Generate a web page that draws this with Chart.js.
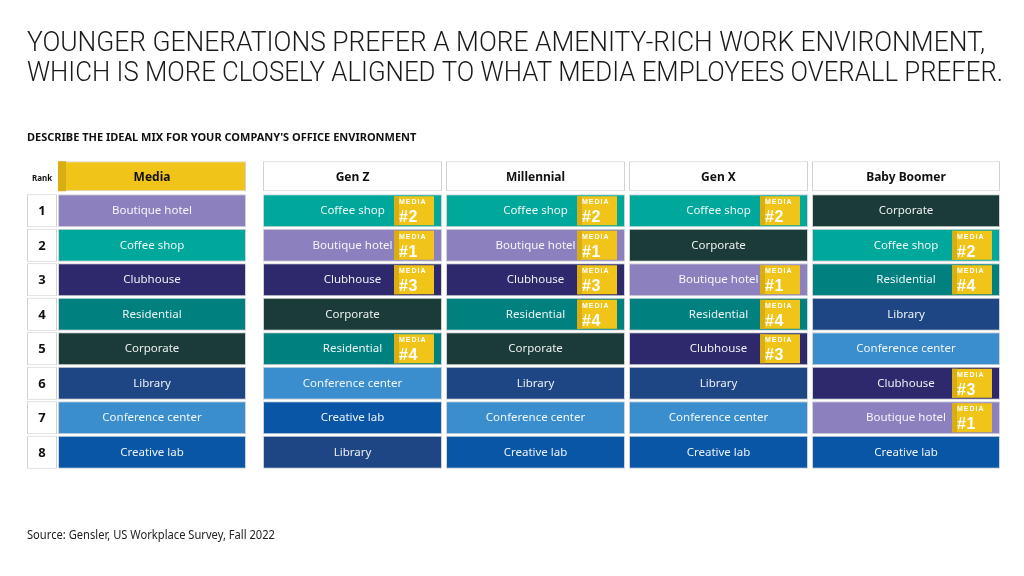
<!DOCTYPE html>
<html>
<head>
    <title>Ideal office mix by generation</title>
    <script src="https://cdn.jsdelivr.net/npm/chart.js"></script>
    <style>
        body { margin: 0; background: #fff; }
        #wrap { width: 1024px; height: 576px; }
    </style>
</head>
<body>
    <div id="wrap"><canvas id="mixChart" width="1024" height="576"></canvas></div>

    <script>
        // Data
        var groups = ["Media", "Gen Z", "Millennial", "Gen X", "Baby Boomer"];
        var ranks = ["1", "2", "3", "4", "5", "6", "7", "8"];
        var mediaOrder = ["Boutique hotel", "Coffee shop", "Clubhouse", "Residential", "Corporate", "Library", "Conference center", "Creative lab"];
        var genZOrder = ["Coffee shop", "Boutique hotel", "Clubhouse", "Corporate", "Residential", "Conference center", "Creative lab", "Library"];
        var millennialOrder = ["Coffee shop", "Boutique hotel", "Clubhouse", "Residential", "Corporate", "Library", "Conference center", "Creative lab"];
        var genXOrder = ["Coffee shop", "Corporate", "Boutique hotel", "Residential", "Clubhouse", "Library", "Conference center", "Creative lab"];
        var boomerOrder = ["Corporate", "Coffee shop", "Residential", "Library", "Conference center", "Clubhouse", "Boutique hotel", "Creative lab"];
        var orders = [mediaOrder, genZOrder, millennialOrder, genXOrder, boomerOrder];

        // Colours for each amenity
        var amenityColors = {
            "Boutique hotel": "#8c80be",
            "Coffee shop": "#00a79b",
            "Clubhouse": "#2d296c",
            "Residential": "#00807f",
            "Corporate": "#1b3b39",
            "Library": "#1e4584",
            "Conference center": "#3a8ecd",
            "Creative lab": "#0a56a6"
        };
        var yellow = "#f0c419";
        var yellowDark = "#d9ae14";

        // Column layout in x units (1 unit = 1 px across the chart area)
        var colSpans = [[0, 30], [31, 219], [236, 415], [419, 598], [602, 781], [785, 973]];
        var rows = ["header"].concat(ranks);

        var datasets = [];
        // rank column
        datasets.push({
            label: "Rank",
            data: rows.map(function (r, i) { return i === 0 ? null : colSpans[0]; }),
            backgroundColor: "#ffffff",
            cellLabels: [""].concat(ranks),
            isRank: true
        });
        groups.forEach(function (g, gi) {
            var order = orders[gi];
            // header cell (a bit shorter than the body rows)
            datasets.push({
                label: g + " header",
                data: rows.map(function (r, i) { return i === 0 ? colSpans[gi + 1] : null; }),
                backgroundColor: gi === 0 ? yellow : "#ffffff",
                barPercentage: 0.87,
                cellLabels: [g],
                isHeader: true,
                isMediaCol: gi === 0
            });
            datasets.push({
                label: g,
                data: rows.map(function (r, i) { return i === 0 ? null : colSpans[gi + 1]; }),
                backgroundColor: ["#ffffff"].concat(order.map(function (a) { return amenityColors[a]; })),
                cellLabels: [""].concat(order),
                // badge = rank this amenity got from media employees (top 4 only)
                badges: [null].concat(order.map(function (a) {
                    var m = mediaOrder.indexOf(a) + 1;
                    return (gi > 0 && m <= 4) ? m : null;
                }))
            });
        });

        var textPlugin = {
            id: "cellText",
            beforeDraw: function (chart) {
                var ctx = chart.ctx;
                ctx.save();
                ctx.fillStyle = "#ffffff";
                ctx.fillRect(0, 0, chart.width, chart.height);
                ctx.restore();
            },
            afterDatasetsDraw: function (chart) {
                var ctx = chart.ctx;
                ctx.save();
                chart.data.datasets.forEach(function (ds, di) {
                    var meta = chart.getDatasetMeta(di);
                    meta.data.forEach(function (bar, ri) {
                        var label = ds.cellLabels[ri];
                        if (!label) return;
                        var p = bar.getProps(["x", "y", "base", "height"], true);
                        if (p.x == null || isNaN(p.x)) return;
                        var left = Math.min(p.x, p.base), right = Math.max(p.x, p.base);
                        var cx = (left + right) / 2;
                        var top = p.y - p.height / 2, h = p.height;
                        ctx.textAlign = "center";
                        ctx.textBaseline = "middle";
                        ctx.letterSpacing = "0px";
                        if (ds.isRank) {
                            ctx.fillStyle = "#111";
                            ctx.font = "bold 13px 'Noto Sans'";
                            ctx.fillText(label, cx, p.y + 1);
                            return;
                        }
                        if (ds.isHeader) {
                            if (ds.isMediaCol) {
                                ctx.fillStyle = yellowDark;
                                ctx.fillRect(left, top, 8, h);
                            }
                            ctx.fillStyle = "#111";
                            ctx.font = "bold 12px 'Noto Sans'";
                            ctx.fillText(label, cx, p.y + 1);
                            return;
                        }
                        ctx.fillStyle = "rgba(255,255,255,0.92)";
                        ctx.font = "11.5px 'Noto Sans'";
                        ctx.fillText(label, cx, p.y);

                        var b = ds.badges ? ds.badges[ri] : null;
                        if (b) {
                            var bw = 40, bx = right - 8 - bw, by = top + 2, bh = h - 4;
                            ctx.fillStyle = yellow;
                            ctx.fillRect(bx, by, bw, bh);
                            ctx.fillStyle = yellowDark;
                            ctx.fillRect(bx, by, 5, bh);
                            ctx.fillStyle = "#ffffff";
                            ctx.textAlign = "left";
                            ctx.textBaseline = "alphabetic";
                            ctx.letterSpacing = "1px";
                            ctx.font = "bold 7px 'Liberation Sans'";
                            ctx.fillText("MEDIA", bx + 5, by + 8);
                            ctx.letterSpacing = "0.5px";
                            ctx.font = "bold 16px 'Liberation Sans'";
                            ctx.fillText("#" + b, bx + 5, by + bh - 3);
                        }
                    });
                });

                // "Rank" label above the rank column
                var xs = chart.scales.x, ys = chart.scales.y;
                ctx.letterSpacing = "0px";
                ctx.fillStyle = "#111";
                ctx.textAlign = "center";
                ctx.textBaseline = "middle";
                ctx.font = "bold 8px 'Noto Sans'";
                ctx.fillText("Rank", (xs.getPixelForValue(colSpans[0][0]) + xs.getPixelForValue(colSpans[0][1])) / 2, ys.getPixelForValue(0) + 2);

                // titles and source
                ctx.textAlign = "left";
                ctx.textBaseline = "alphabetic";
                ctx.fillStyle = "#1a1a1a";
                ctx.font = "300 27px Roboto";
                ctx.fillText("YOUNGER GENERATIONS PREFER A MORE AMENITY-RICH WORK ENVIRONMENT,", 27, 51, 958);
                ctx.fillText("WHICH IS MORE CLOSELY ALIGNED TO WHAT MEDIA EMPLOYEES OVERALL PREFER.", 27, 81, 976);
                ctx.fillStyle = "#111";
                ctx.font = "bold 11px 'Noto Sans'";
                ctx.fillText("DESCRIBE THE IDEAL MIX FOR YOUR COMPANY'S OFFICE ENVIRONMENT", 27, 141, 417);
                ctx.fillStyle = "#222";
                ctx.font = "12px 'Noto Sans'";
                ctx.fillText("Source: Gensler, US Workplace Survey, Fall 2022", 27, 539, 248);
                ctx.restore();
            }
        };

        var ctx = document.getElementById("mixChart").getContext("2d");
        var chart = new Chart(ctx, {
            type: "bar",
            data: {
                labels: rows,
                datasets: datasets
            },
            options: {
                responsive: false,
                animation: false,
                indexAxis: "y",
                layout: { padding: { left: 27, right: 24, top: 159, bottom: 106.5 } },
                datasets: {
                    bar: {
                        grouped: false,
                        categoryPercentage: 1,
                        barPercentage: 0.957,
                        borderWidth: 1,
                        borderColor: "#d2d2d2",
                        borderSkipped: false
                    }
                },
                scales: {
                    x: { type: "linear", min: 0, max: 973, display: false },
                    y: { display: false }
                },
                plugins: {
                    legend: { display: false },
                    tooltip: { enabled: false }
                }
            },
            plugins: [textPlugin]
        });
    </script>
</body>
</html>
